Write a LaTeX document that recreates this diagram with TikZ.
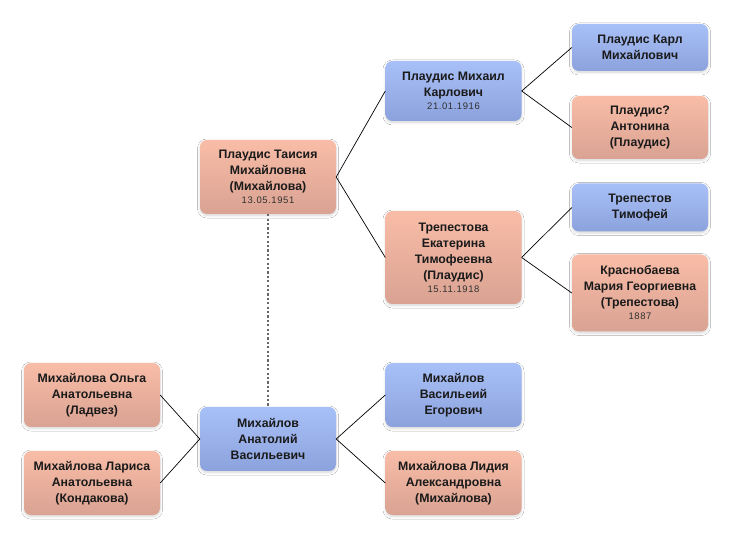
\documentclass[tikz,border=0pt]{standalone}
\usepackage{fontspec}
\setmainfont{Liberation Sans}
\newfontfamily\datefamily[LetterSpace=6]{Liberation Sans}
\usetikzlibrary{shadows.blur}
\definecolor{bluetop}{HTML}{A8C0F8}
\definecolor{bluebot}{HTML}{8CA2DC}
\definecolor{pinktop}{HTML}{F9BDA7}
\definecolor{pinkbot}{HTML}{D9A292}
\definecolor{txt}{HTML}{1A1A1A}
\definecolor{datec}{HTML}{303030}
\newcommand{\dt}[1]{{\datefamily\fontsize{9.5}{10}\selectfont\mdseries\color{datec}#1}}
\tikzset{
  person/.style={rounded corners=7pt, minimum width=136pt, inner sep=2pt,
    align=center, text=txt, font=\fontsize{12.3}{16}\selectfont\bfseries,
    blur shadow={shadow xshift=0pt, shadow yshift=-1.5pt, shadow blur radius=2.5pt, shadow blur steps=6, shadow opacity=16}},
  male/.style={person, shading=axis, top color=bluetop, bottom color=bluebot},
  female/.style={person, shading=axis, top color=pinktop, bottom color=pinkbot},
  link/.style={draw=black, line width=0.7pt},
  marriage/.style={draw=gray!80!black, line width=1.6pt, dash pattern=on 2.2pt off 2.2pt}
}
\begin{document}
\begin{tikzpicture}[x=1pt,y=-1pt]
\useasboundingbox[fill=white] (0,0) rectangle (732,540);
\node[male, minimum height=47pt] (karl) at (640,47.5) {Плаудис Карл\\Михайлович};
\node[female, minimum height=63pt] (antonina) at (640,127.5) {Плаудис?\\Антонина\\(Плаудис)};
\node[male, minimum height=60pt] (mikhail) at (453.5,91) {Плаудис Михаил\\Карлович\\[-3pt]\dt{21.01.1916}};
\node[female, minimum height=74pt] (taisia) at (268,177) {Плаудис Таисия\\Михайловна\\(Михайлова)\\[-3pt]\dt{13.05.1951}};
\node[female, minimum height=93pt] (ekaterina) at (453.5,257.5) {Трепестова\\Екатерина\\Тимофеевна\\(Плаудис)\\[-3pt]\dt{15.11.1918}};
\node[male, minimum height=48pt] (timofey) at (640,207.5) {Трепестов\\Тимофей};
\node[female, minimum height=77pt] (maria) at (640,293) {Краснобаева\\Мария Георгиевна\\(Трепестова)\\[-3pt]\dt{1887}};
\node[female, minimum height=64pt] (olga) at (92,395) {Михайлова Ольга\\Анатольевна\\(Ладвез)};
\node[female, minimum height=64pt] (larisa) at (92,483) {Михайлова Лариса\\Анатольевна\\(Кондакова)};
\node[male, minimum height=64pt] (anatoly) at (268,439) {Михайлов\\Анатолий\\Васильевич};
\node[male, minimum height=64pt] (vasiliy) at (453.5,395) {Михайлов\\Васильеий\\Егорович};
\node[female, minimum height=64pt] (lidia) at (453.5,483) {Михайлова Лидия\\Александровна\\(Михайлова)};

\draw[link] (mikhail.east) -- (karl.west);
\draw[link] (mikhail.east) -- (antonina.west);
\draw[link] (taisia.east) -- (mikhail.west);
\draw[link] (taisia.east) -- (ekaterina.west);
\draw[link] (ekaterina.east) -- (timofey.west);
\draw[link] (ekaterina.east) -- (maria.west);
\draw[link] (olga.east) -- (anatoly.west);
\draw[link] (larisa.east) -- (anatoly.west);
\draw[link] (anatoly.east) -- (vasiliy.west);
\draw[link] (anatoly.east) -- (lidia.west);
\draw[marriage] (taisia.south) -- (anatoly.north);
\end{tikzpicture}
\end{document}
